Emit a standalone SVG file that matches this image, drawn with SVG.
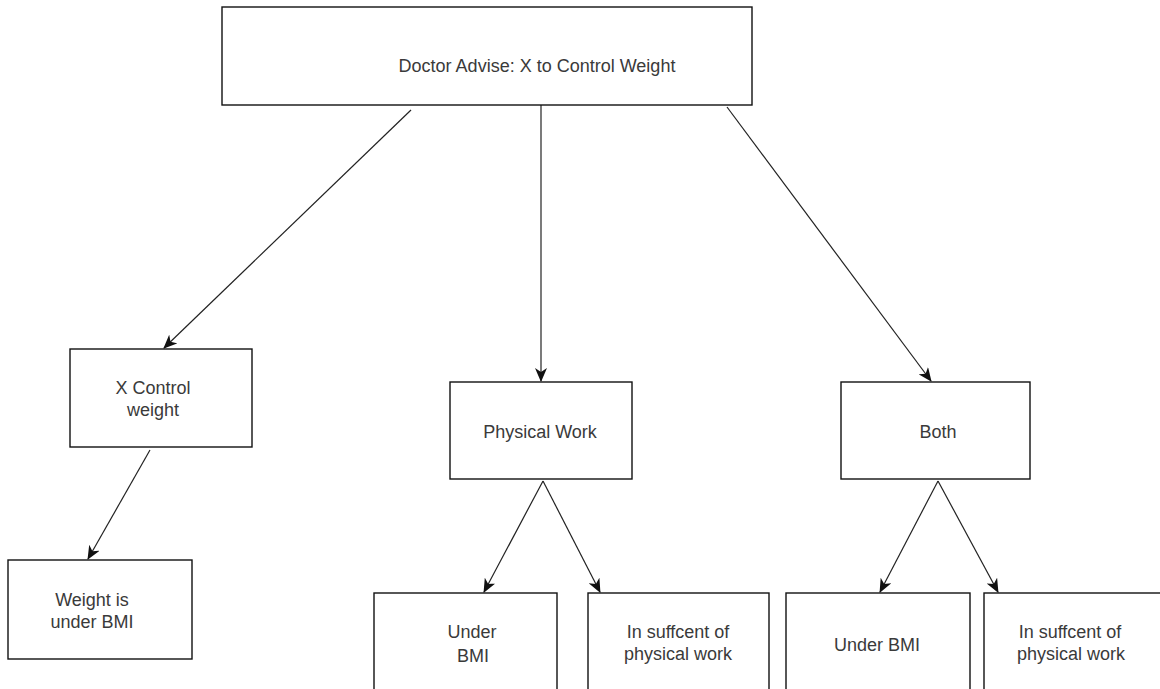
<svg xmlns="http://www.w3.org/2000/svg" width="1160" height="689" viewBox="0 0 1160 689">
<style>
.box{fill:#fff;stroke:#111;stroke-width:1.4}
.t{font-family:"Liberation Sans",Arial,sans-serif;font-size:18px;fill:#3a3a3a;text-anchor:middle}
.c{stroke:#222;stroke-width:1.2;fill:none;marker-end:url(#ah)}
</style>
<defs>
<marker id="ah" viewBox="0 0 14 12" refX="13" refY="6" markerWidth="14" markerHeight="12" markerUnits="userSpaceOnUse" orient="auto">
<path d="M0,0 L14,6 L0,12 L4,6 Z" fill="#111"/>
</marker>
</defs>
<rect width="1160" height="689" fill="#fff"/>
<g id="connectors">
<line class="c" x1="411" y1="110" x2="164" y2="348"/>
<line class="c" x1="541" y1="105" x2="541" y2="381"/>
<line class="c" x1="727" y1="107" x2="931" y2="381"/>
<line class="c" x1="150" y1="450" x2="88" y2="559"/>
<line class="c" x1="543" y1="481" x2="484" y2="592"/>
<line class="c" x1="543" y1="481" x2="600" y2="592"/>
<line class="c" x1="938" y1="481" x2="880" y2="592"/>
<line class="c" x1="938" y1="481" x2="998" y2="592"/>
</g>
<g id="n-root"><rect class="box" x="222" y="7" width="530" height="98"/><text class="t" x="537" y="72">Doctor Advise: X to Control Weight</text></g>
<g id="n-xcontrol"><rect class="box" x="70" y="349" width="182" height="98"/><text class="t" x="153" y="394">X Control</text><text class="t" x="153" y="416">weight</text></g>
<g id="n-weight"><rect class="box" x="8" y="560" width="184" height="99"/><text class="t" x="92" y="606">Weight is</text><text class="t" x="92" y="628">under BMI</text></g>
<g id="n-physical"><rect class="box" x="450" y="382" width="182" height="97"/><text class="t" x="540" y="438">Physical Work</text></g>
<g id="n-both"><rect class="box" x="841" y="382" width="189" height="97"/><text class="t" x="938" y="438">Both</text></g>
<g id="n-under1"><rect class="box" x="374" y="593" width="183" height="110"/><text class="t" x="472" y="638">Under</text><text class="t" x="473" y="662">BMI</text></g>
<g id="n-insuff1"><rect class="box" x="588" y="593" width="181" height="110"/><text class="t" x="678" y="638">In suffcent of</text><text class="t" x="678" y="660">physical work</text></g>
<g id="n-under2"><rect class="box" x="786" y="593" width="184" height="110"/><text class="t" x="877" y="651">Under BMI</text></g>
<g id="n-insuff2"><rect class="box" x="984" y="593" width="190" height="110"/><text class="t" x="1070" y="638">In suffcent of</text><text class="t" x="1071" y="660">physical work</text></g>
</svg>
